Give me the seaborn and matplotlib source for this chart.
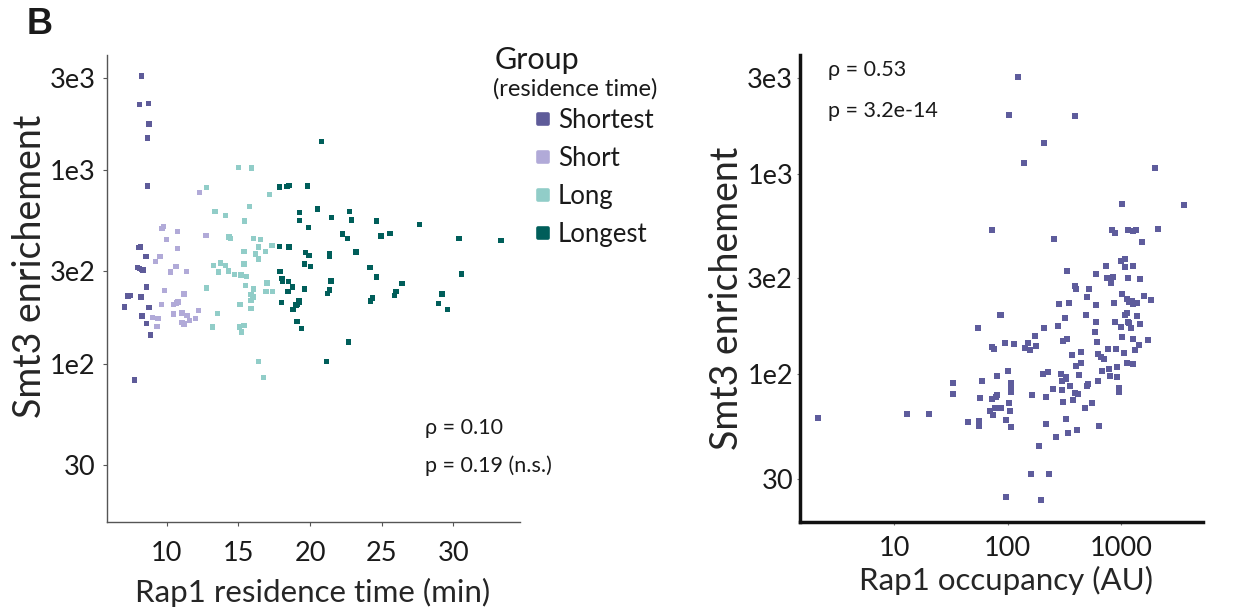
import matplotlib
matplotlib.use("Agg")
import numpy as np
import pandas as pd
import matplotlib.pyplot as plt
from matplotlib.lines import Line2D
from matplotlib.markers import MarkerStyle
from matplotlib.ticker import FixedLocator, FixedFormatter, NullLocator
import seaborn as sns

# ---------------- data: panel B, left (residence time vs Smt3) ----------------
groups = ["Shortest", "Short", "Long", "Longest"]
group_colors = ["#5e5b99", "#b1aad8", "#91cdc8", "#005e5a"]

shortest_time = [8.23, 8.09, 8.72, 8.77, 8.65, 8.65, 8.07, 8.16, 8.56, 7.98, 8.10, 8.28,
                 8.35, 8.60, 7.30, 7.46, 8.19, 7.07, 8.77, 8.28, 8.58, 8.88, 7.77]
shortest_smt3 = [3060, 2180, 2210, 1730, 1460, 827, 398, 401, 357, 314, 311, 307,
                 305, 249, 224, 225, 221, 197, 196, 177, 162, 141, 82.7]

short_time = [12.27, 9.67, 9.76, 10.77, 10.00, 10.77, 12.74, 9.53, 9.20, 10.65, 10.25, 11.37,
              9.83, 11.19, 10.79, 10.67, 9.65, 10.46, 12.20, 9.00, 9.39, 10.46, 11.07, 11.40,
              11.58, 12.02, 11.07, 11.21, 9.32]
short_smt3 = [764, 501, 513, 481, 437, 393, 458, 359, 337, 317, 298, 299,
              239, 229, 209, 206, 203, 203, 189, 173, 172, 181, 183, 178,
              167, 171, 163, 161, 156]

long_time = [15.02, 15.93, 12.79, 17.16, 15.79, 13.37, 14.12, 15.44, 14.35, 14.44, 16.04, 16.56,
             16.42, 17.35, 15.39, 16.21, 16.91, 16.39, 13.25, 13.77, 14.12, 13.60, 14.30, 14.72,
             15.18, 15.58, 15.39, 17.00, 15.48, 16.07, 15.88, 16.02, 15.88, 16.93, 17.37, 12.79,
             15.11, 15.88, 13.56, 13.18, 15.09, 15.39, 15.20, 16.39, 16.77]
long_smt3 = [1032, 1024, 811, 749, 650, 610, 584, 546, 451, 445, 443, 439,
             401, 409, 379, 369, 379, 347, 323, 332, 321, 298, 302, 289,
             287, 282, 328, 261, 254, 243, 228, 221, 212, 237, 236, 246,
             203, 193, 182, 155, 155, 158, 146, 103, 85.4]

longest_time = [17.88, 18.39, 18.53, 19.81, 20.51, 19.25, 19.25, 19.91, 17.88, 18.53, 19.70, 19.93,
                19.63, 20.05, 17.90, 18.04, 18.09, 18.48, 18.79, 18.46, 19.63, 18.02, 19.23, 19.28,
                19.14, 19.02, 18.81, 19.09, 19.39, 20.81, 21.48, 22.77, 22.91, 24.62, 27.62, 22.25,
                22.63, 24.95, 25.58, 30.39, 33.32, 21.37, 21.37, 23.21, 24.18, 24.62, 30.58, 21.46,
                21.37, 21.21, 26.42, 26.00, 25.88, 24.34, 24.23, 29.21, 28.98, 29.60, 22.70, 21.14]
longest_smt3 = [817, 824, 834, 827, 630, 605, 550, 504, 402, 400, 375, 363,
                328, 317, 299, 275, 267, 266, 249, 237, 243, 208, 212, 208,
                203, 201, 191, 165, 152, 1400, 570, 610, 552, 546, 525, 468,
                445, 457, 469, 445, 434, 372, 359, 377, 314, 281, 291, 268,
                241, 230, 259, 237, 225, 219, 211, 229, 205, 191, 130, 103]

left_yticks = [30, 100, 300, 1000, 3000]
left_yticklabels = ["30", "1e2", "3e2", "1e3", "3e3"]
left_xticks = [10, 15, 20, 25, 30]

# ---------------- data: panel B, right (occupancy vs Smt3) ----------------
occupancy = [124, 103, 397, 209, 140, 2010, 1020, 3570, 72.9, 826, 891, 1160,
             1280, 1350, 2120, 256, 1540, 1010, 1080, 737, 1090, 1280, 331, 605,
             746, 855, 809, 1160, 1480, 397, 400, 522, 504, 1030, 1600, 1840,
             1130, 1180, 1260, 1270, 1400, 860, 602, 349, 285, 491, 1080, 1120,
             1390, 320, 602, 891, 1160, 1180, 1470, 1010, 1230, 281, 209, 589,
             1030, 175, 1290, 1750, 1450, 331, 305, 614, 86.4, 88.1, 55.2, 150,
             141, 157, 179, 94.5, 114, 72.9, 76.0, 762, 909, 1320, 1060, 626,
             666, 702, 440, 371, 446, 403, 1140, 1270, 914, 783, 680, 426,
             804, 914, 630, 507, 501, 101, 80.8, 205, 228, 297, 301, 327,
             329, 352, 299, 251, 392, 417, 952, 952, 550, 477, 379, 309,
             219, 164, 107, 106, 107, 59.5, 33.0, 32.8, 80.3, 79.1, 57.5, 73.4,
             102, 87.6, 77.1, 70.5, 74.5, 105, 97.6, 107, 55.7, 56.0, 44.8, 20.3,
             13.0, 2.1, 327, 219, 411, 342, 643, 268, 191, 162, 231, 97.6, 197]
occupancy_smt3 = [3060, 1970, 1940, 1420, 1130, 1070, 703, 698, 521, 523, 509, 521,
                  515, 525, 529, 470, 459, 365, 376, 346, 341, 346, 326, 314,
                  300, 305, 285, 302, 298, 275, 265, 267, 243, 251, 246, 235,
                  236, 228, 232, 223, 226, 227, 221, 226, 223, 197, 198, 202,
                  195, 191, 181, 181, 182, 179, 177, 172, 169, 174, 170, 162,
                  153, 154, 150, 147, 140, 149, 146, 145, 196, 198, 169, 143,
                  135, 131, 138, 142, 141, 136, 133, 133, 133, 131, 127, 126,
                  122, 119, 128, 124, 114, 109, 114, 112, 108, 106, 104, 99.3,
                  97.1, 96.0, 92.3, 89.2, 87.1, 104, 97.1, 100, 102, 100, 92.7, 96.0,
                  93.8, 86.8, 82.9, 83.9, 80.4, 79.2, 84.6, 81.3, 71.9, 67.9, 73.9, 72.8,
                  77.1, 78.6, 89.9, 87.1, 80.8, 92.0, 89.9, 79.2, 78.3, 77.1, 76.2, 75.0,
                  71.6, 67.9, 67.2, 65.3, 62.2, 65.6, 58.7, 54.3, 58.2, 55.2, 57.4, 63.1,
                  63.1, 60.5, 59.6, 56.2, 52.7, 50.5, 54.8, 48.3, 43.4, 31.5, 31.5, 24.2, 23.4]
occupancy_color = "#5e5c9c"

right_yticks = [30, 100, 300, 1000, 3000]
right_yticklabels = ["30", "1e2", "3e2", "1e3", "3e3"]
right_xticks = [10, 100, 1000]
right_xticklabels = ["10", "100", "1000"]

# ---------------- figure ----------------
sns.set_theme(style="ticks")
plt.rcParams["font.family"] = ["Lato", "DejaVu Sans"]
plt.rcParams["text.color"] = "#1a1a1a"

W, H = 1257, 614
fig = plt.figure(figsize=(W / 100, H / 100), dpi=100)
fig.patch.set_facecolor("white")

TICK_FS = 19.5
XLAB_FS = 22.5
YLAB_FS = 27
NOTE_FS = 15.5


def axes_at(x0, y0, x1, y1):
    return fig.add_axes([x0 / W, 1 - y1 / H, (x1 - x0) / W, (y1 - y0) / H])


ax1 = axes_at(107, 55, 520, 522)
ax2 = axes_at(800, 55, 1203, 522)

# left panel
frames = []
for name, t, s in zip(groups,
                      [shortest_time, short_time, long_time, longest_time],
                      [shortest_smt3, short_smt3, long_smt3, longest_smt3]):
    frames.append(pd.DataFrame({"time": t, "smt3": s, "group": name}))
df_left = pd.concat(frames, ignore_index=True)

sns.scatterplot(data=df_left, x="time", y="smt3", hue="group", hue_order=groups,
                palette=group_colors, marker="s", s=15, linewidth=0,
                legend=False, ax=ax1)
ax1.set_yscale("log")
ax1.set_xlim(5.83, 34.65)
ax1.set_ylim(15.3, 3920)
ax1.yaxis.set_major_locator(FixedLocator(left_yticks))
ax1.yaxis.set_major_formatter(FixedFormatter(left_yticklabels))
ax1.yaxis.set_minor_locator(NullLocator())
ax1.xaxis.set_major_locator(FixedLocator(left_xticks))
for side in ("top", "right"):
    ax1.spines[side].set_visible(False)
for side in ("left", "bottom"):
    ax1.spines[side].set_color("#555555")
    ax1.spines[side].set_linewidth(1.0)
ax1.tick_params(axis="both", which="major", direction="out", length=3, width=0.8,
                color="#555555", labelsize=TICK_FS, labelcolor="#1a1a1a")
ax1.tick_params(axis="x", pad=11)
ax1.tick_params(axis="y", pad=5)

ax1.set_xlabel("Rap1 residence time (min)", fontsize=XLAB_FS)
ax1.set_ylabel("Smt3 enrichement", fontsize=YLAB_FS)
ax1.xaxis.label.set_verticalalignment("center")
ax1.yaxis.label.set_verticalalignment("center")
ax1.xaxis.set_label_coords(0.4976, -0.150)
ax1.yaxis.set_label_coords(-0.187, 0.548)

ax1.text(0.770, 0.2013, "ρ = 0.10", transform=ax1.transAxes, fontsize=NOTE_FS,
         ha="left", va="center")
ax1.text(0.770, 0.1199, "p = 0.19 (n.s.)", transform=ax1.transAxes, fontsize=NOTE_FS,
         ha="left", va="center")

# legend for the residence-time groups
handles = [Line2D([], [], linestyle="none",
                  marker=MarkerStyle("s", joinstyle="round"), markersize=6.5,
                  markeredgewidth=2.6, markerfacecolor=c, markeredgecolor=c)
           for c in group_colors]
ax1.legend(handles, groups, loc="upper left", bbox_to_anchor=(535 / W, 1 - 108 / H),
           bbox_transform=fig.transFigure, frameon=False, fontsize=18.5,
           handlelength=0.6, handletextpad=0.3, labelspacing=0.51,
           borderpad=0, borderaxespad=0)
fig.text(495 / W, 1 - 60 / H, "Group", fontsize=22, ha="left", va="center")
fig.text(493 / W, 1 - 89 / H, "(residence time)", fontsize=17, ha="left", va="center")

# right panel
sns.scatterplot(x=occupancy, y=occupancy_smt3, color=occupancy_color, marker="s",
                s=15, linewidth=0, ax=ax2)
ax2.set_xscale("log")
ax2.set_yscale("log")
ax2.set_xlim(1.47, 5300)
ax2.set_ylim(18.2, 3925)
ax2.yaxis.set_major_locator(FixedLocator(right_yticks))
ax2.yaxis.set_major_formatter(FixedFormatter(right_yticklabels))
ax2.yaxis.set_minor_locator(NullLocator())
ax2.xaxis.set_major_locator(FixedLocator(right_xticks))
ax2.xaxis.set_major_formatter(FixedFormatter(right_xticklabels))
ax2.xaxis.set_minor_locator(NullLocator())
for side in ("top", "right"):
    ax2.spines[side].set_visible(False)
for side in ("left", "bottom"):
    ax2.spines[side].set_color("#111111")
    ax2.spines[side].set_linewidth(2.5)
ax2.tick_params(axis="both", which="major", direction="out", length=2, width=0.8,
                color="#777777", labelsize=TICK_FS, labelcolor="#1a1a1a")
ax2.tick_params(axis="x", pad=8)
ax2.tick_params(axis="y", pad=3)

ax2.set_xlabel("Rap1 occupancy (AU)", fontsize=XLAB_FS)
ax2.set_ylabel("Smt3 enrichement", fontsize=YLAB_FS)
ax2.xaxis.label.set_verticalalignment("center")
ax2.yaxis.label.set_verticalalignment("center")
ax2.xaxis.set_label_coords(0.5115, -0.125)
ax2.yaxis.set_label_coords(-0.182, 0.479)

ax2.text(0.0695, 0.968, "ρ = 0.53", transform=ax2.transAxes, fontsize=NOTE_FS,
         ha="left", va="center")
ax2.text(0.0695, 0.880, "p = 3.2e-14", transform=ax2.transAxes, fontsize=NOTE_FS,
         ha="left", va="center")

# panel letter
fig.text(27 / W, 1 - 25 / H, "B", fontsize=26, fontweight="bold",
         family=["Liberation Sans", "DejaVu Sans"], ha="left", va="center")

fig.savefig("out.png", dpi=100, facecolor="white")
